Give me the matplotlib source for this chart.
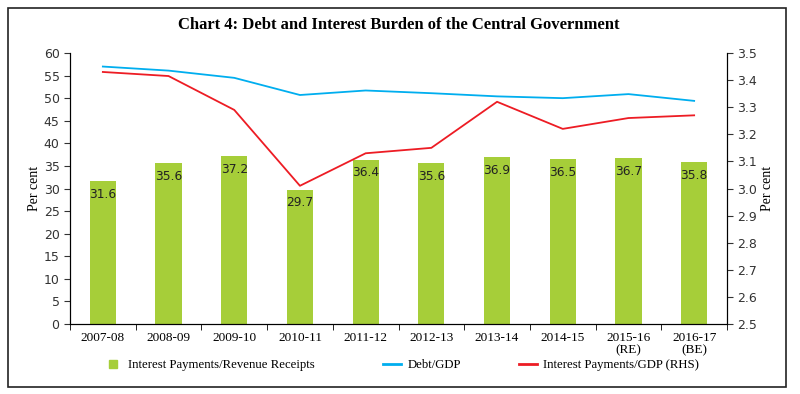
import matplotlib.pyplot as plt
from matplotlib.patches import Rectangle
from matplotlib.lines import Line2D
import numpy as np

years = ['2007-08', '2008-09', '2009-10', '2010-11', '2011-12', '2012-13',
         '2013-14', '2014-15', '2015-16\n(RE)', '2016-17\n(BE)']
ip_rr = [31.6, 35.6, 37.2, 29.7, 36.4, 35.6, 36.9, 36.5, 36.7, 35.8]
debt_gdp = [57.0, 56.1, 54.5, 50.7, 51.7, 51.1, 50.4, 50.0, 50.9, 49.4]
ip_gdp = [3.43, 3.415, 3.29, 3.01, 3.13, 3.15, 3.32, 3.22, 3.26, 3.27]
legend_labels = ['Interest Payments/Revenue Receipts', 'Debt/GDP', 'Interest Payments/GDP (RHS)']

serif = 'Liberation Serif'
sans = 'DejaVu Sans'
bar_col = '#a6ce39'
blue = '#00aeef'
red = '#ed1c24'

fig = plt.figure(figsize=(8, 3.94), dpi=100)
fig.patches.append(Rectangle((8 / 800, 1 - 387 / 394), 778 / 800, 379 / 394,
                             transform=fig.transFigure, fill=False,
                             edgecolor='#222222', linewidth=1.2))

ax = fig.add_axes([70 / 800, 1 - 324 / 394, 657 / 800, 271 / 394])
x = np.arange(len(years))
ax.bar(x, ip_rr, width=0.4, color=bar_col)
for xi, v in zip(x, ip_rr):
    ax.text(xi, v - 2.9, f'{v:.1f}', ha='center', va='center', fontsize=8.8,
            family=sans, color='#222222')
ax.plot(x, debt_gdp, color=blue, linewidth=1.3)

ax.set_xlim(-0.5, len(years) - 0.5)
ax.set_ylim(0, 60)
ax.set_yticks(range(0, 61, 5))
ax.set_xticks(x)
ax.set_xticklabels(years, family=serif, fontsize=9.5, linespacing=1.0)
ax.set_xticks(np.arange(-0.5, len(years), 1), minor=True)
ax.tick_params(axis='x', which='major', length=0, pad=6)
ax.tick_params(axis='x', which='minor', length=4, direction='out')
ax.tick_params(axis='y', labelsize=9, length=4, direction='out', colors='#333333')
for lab in ax.get_yticklabels():
    lab.set_family(sans)
ax.set_ylabel('Per cent', family=serif, fontsize=10, labelpad=2)
ax.spines['top'].set_visible(False)

ax2 = ax.twinx()
ax2.plot(x, ip_gdp, color=red, linewidth=1.3)
ax2.set_ylim(2.5, 3.5)
ax2.set_yticks(np.arange(2.5, 3.51, 0.1))
ax2.set_yticklabels([f'{t:.1f}' for t in np.arange(2.5, 3.51, 0.1)], family=sans)
ax2.tick_params(axis='y', labelsize=9, length=4, direction='out', colors='#333333')
ax2.set_ylabel('Per cent', family=serif, fontsize=10, labelpad=3)
ax2.spines['top'].set_visible(False)

fig.text(399 / 800, 1 - 25 / 394, 'Chart 4: Debt and Interest Burden of the Central Government',
         ha='center', va='center', family=serif, fontweight='bold', fontsize=12)

handles = [Line2D([], [], linestyle='none', marker='s', markersize=6,
                  markerfacecolor=bar_col, markeredgecolor=bar_col),
           Line2D([], [], color=blue, linewidth=2),
           Line2D([], [], color=red, linewidth=2)]
# one legend per entry so each sits where the reference has it
starts = [104, 383, 519]
for h, lab, x0 in zip(handles, legend_labels, starts):
    fig.legend([h], [lab], loc='center left', bbox_to_anchor=(x0 / 800, 1 - 365 / 394),
               frameon=False, borderpad=0, borderaxespad=0,
               prop={'family': serif, 'size': 9.2},
               handlelength=1.4, handletextpad=0.5)

fig.savefig('out.png', dpi=100)
